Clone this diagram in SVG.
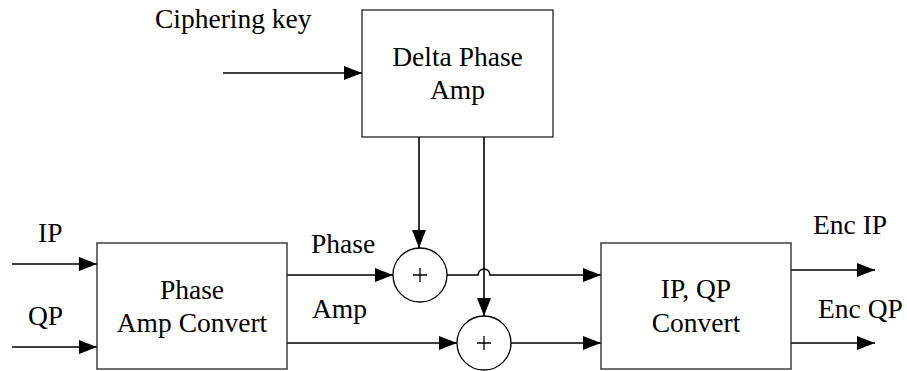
<svg xmlns="http://www.w3.org/2000/svg" width="907" height="371" viewBox="0 0 907 371">
<defs>
<marker id="arr" markerUnits="userSpaceOnUse" markerWidth="18" markerHeight="14" refX="18" refY="7" orient="auto">
<path d="M0,0 L18,7 L0,14 z" fill="#000"/>
</marker>
<style>
.box{fill:#fff;stroke:#222;stroke-width:1.3}
.t{font-family:"Liberation Serif","Times New Roman",serif;font-size:27.5px;fill:#000}
.c{text-anchor:middle}
.ln{fill:none;stroke:#000;stroke-width:1.6}
.arrow{marker-end:url(#arr)}
.sum{fill:#fff;stroke:#000;stroke-width:1.3}
.plus{stroke:#000;stroke-width:1.3}
</style>
</defs>
<rect width="907" height="371" fill="#fff"/>
<text class="t" x="155" y="28">Ciphering key</text>
<text class="t" x="38" y="242">IP</text>
<text class="t" x="28" y="325">QP</text>
<text class="t" x="311" y="253">Phase</text>
<text class="t" x="312" y="318">Amp</text>
<text class="t" x="813" y="234">Enc IP</text>
<text class="t" x="818" y="318">Enc QP</text>
<g id="connectors">
<line class="ln arrow" x1="223" y1="73" x2="362" y2="73"/>
<line class="ln arrow" x1="12" y1="264" x2="97" y2="264"/>
<line class="ln arrow" x1="12" y1="347" x2="97" y2="347"/>
<line class="ln arrow" x1="419" y1="137" x2="419" y2="248"/>
<line class="ln arrow" x1="484" y1="137" x2="484" y2="316"/>
<line class="ln arrow" x1="287" y1="275" x2="393" y2="275"/>
<line class="ln arrow" x1="287" y1="343" x2="457" y2="343"/>
<path class="ln arrow" d="M447,275 H478 A6,6 0 0 1 490,275 H601"/>
<line class="ln arrow" x1="511" y1="343" x2="601" y2="343"/>
<line class="ln arrow" x1="791" y1="270" x2="875" y2="270"/>
<line class="ln arrow" x1="791" y1="343" x2="875" y2="343"/>
</g>
<g id="delta">
<rect class="box" x="362" y="10" width="191" height="127"/>
<text class="t c" x="457.5" y="66">Delta Phase</text>
<text class="t c" x="457.5" y="99">Amp</text>
</g>
<g id="pac">
<rect class="box" x="97" y="243" width="190" height="126"/>
<text class="t c" x="192" y="299">Phase</text>
<text class="t c" x="192" y="332">Amp Convert</text>
</g>
<g id="iqc">
<rect class="box" x="601" y="243" width="190" height="126"/>
<text class="t c" x="696" y="298">IP, QP</text>
<text class="t c" x="696" y="332">Convert</text>
</g>
<g id="sum1">
<circle class="sum" cx="420" cy="275" r="27"/>
<path class="plus" d="M413,275 H427 M420,268 V282"/>
</g>
<g id="sum2">
<circle class="sum" cx="484" cy="343" r="27"/>
<path class="plus" d="M477,343 H491 M484,336 V350"/>
</g>
</svg>
